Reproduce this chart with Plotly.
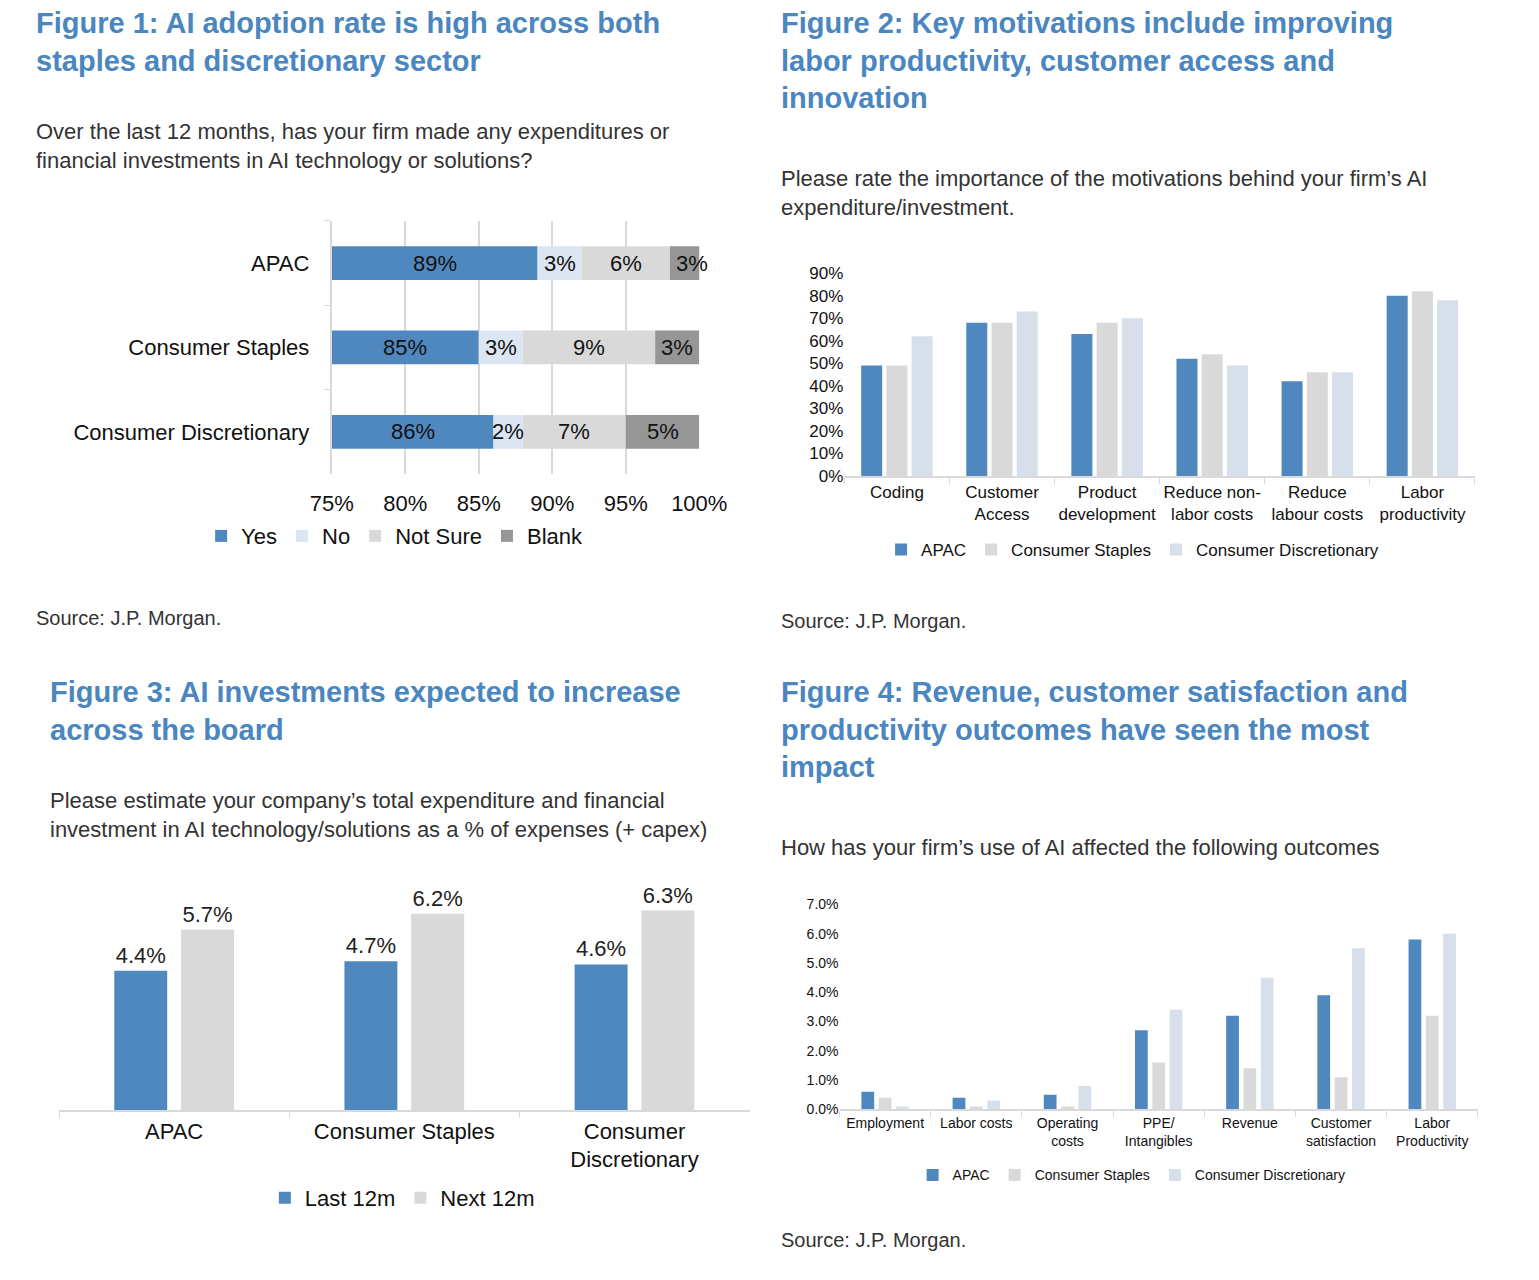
import plotly.graph_objects as go

W, H = 1523, 1264
def px(x): return (x - 8) / W
def py(y): return 1 - (y - 8) / H

BLUE = "#4F88BF"; LBLUE = "#DCE6F2"; LGRAY = "#D9D9D9"; DGRAY = "#969696"; PALE = "#D6DFEA"
TITLE_C = "#4A86C0"; TXT = "#333333"
FONT = "Liberation Sans, Arial, sans-serif"

# Figure 1
f1_regions = ["APAC", "Consumer Staples", "Consumer Discretionary"]
f1_series = ["Yes", "No", "Not Sure", "Blank"]
f1_values = {"Yes": [89, 85, 86], "No": [3, 3, 2], "Not Sure": [6, 9, 7], "Blank": [3, 3, 5]}
f1_colors = [BLUE, LBLUE, LGRAY, DGRAY]
f1_ticks = [75, 80, 85, 90, 95, 100]

# Figure 2
f2_cats = ["Coding", "Customer<br>Access", "Product<br>development", "Reduce non-<br>labor costs",
           "Reduce<br>labour costs", "Labor<br>productivity"]
f2_apac = [49, 68, 63, 52, 42, 80]
f2_staples = [49, 68, 68, 54, 46, 82]
f2_disc = [62, 73, 70, 49, 46, 78]

# Figure 3
f3_cats = ["APAC", "Consumer Staples", "Consumer<br>Discretionary"]
f3_last = [4.4, 4.7, 4.6]
f3_next = [5.7, 6.2, 6.3]

# Figure 4
f4_cats = ["Employment", "Labor costs", "Operating<br>costs", "PPE/<br>Intangibles", "Revenue",
           "Customer<br>satisfaction", "Labor<br>Productivity"]
f4_apac = [0.6, 0.4, 0.5, 2.7, 3.2, 3.9, 5.8]
f4_staples = [0.4, 0.1, 0.1, 1.6, 1.4, 1.1, 3.2]
f4_disc = [0.1, 0.3, 0.8, 3.4, 4.5, 5.5, 6.0]

fig = go.Figure()
annotations = []

# ---- Fig 1 traces (explicit cumulative base)
cum = [0] * len(f1_regions)
for s, c in zip(f1_series, f1_colors):
    vals = f1_values[s]
    fig.add_trace(go.Bar(y=f1_regions, x=vals, base=list(cum), orientation="h", name=s, marker_color=c,
                         xaxis="x", yaxis="y", legend="legend", marker_line_width=0, width=0.4))
    for i, r in enumerate(f1_regions):
        lo = max(cum[i], 75); hi = cum[i] + vals[i]
        annotations.append(dict(x=(lo + hi) / 2, y=r, xref="x", yref="y", text=f"{vals[i]}%",
                                showarrow=False, font=dict(size=22, color="#111")))
    cum = [a + b for a, b in zip(cum, vals)]

def grouped(axis, legend, cats, series, w, gap, **kw):
    n = len(series)
    total = n * w + (n - 1) * gap
    for k, (name, vals, c) in enumerate(series):
        fig.add_trace(go.Bar(x=cats, y=vals, name=name, marker_color=c, xaxis=axis,
                             yaxis=axis.replace("x", "y"), legend=legend, marker_line_width=0,
                             width=w, offset=-total / 2 + k * (w + gap), **kw(vals) if kw else {}))

grouped("x2", "legend2", f2_cats, [("APAC", f2_apac, BLUE), ("Consumer Staples", f2_staples, LGRAY),
                                   ("Consumer Discretionary", f2_disc, PALE)], 0.2, 0.04)
for k, (name, vals, c) in enumerate([("Last 12m", f3_last, BLUE), ("Next 12m", f3_next, LGRAY)]):
    w, gap = 0.23, 0.06
    fig.add_trace(go.Bar(x=f3_cats, y=vals, name=name, marker_color=c, xaxis="x3", yaxis="y3",
                         legend="legend3", text=[f"{v}%" for v in vals], textposition="outside",
                         textangle=0, textfont=dict(size=22, color="#222"), cliponaxis=False,
                         marker_line_width=0, width=w, offset=-(2 * w + gap) / 2 + k * (w + gap)))
grouped("x4", "legend4", f4_cats, [("APAC", f4_apac, BLUE), ("Consumer Staples", f4_staples, LGRAY),
                                   ("Consumer Discretionary", f4_disc, PALE)], 0.14, 0.05)

def T(x, y, text, size, color=TXT, bold=False):
    annotations.append(dict(x=px(x), y=py(y), xref="paper", yref="paper", xanchor="left", yanchor="top",
                            text=(f"<b>{text}</b>" if bold else text), showarrow=False, align="left",
                            font=dict(size=size, color=color, family=FONT)))

T(12, -4, "Figure 1: AI adoption rate is high across both<br>staples and discretionary sector", 29, TITLE_C, True)
T(12, 110, "Over the last 12 months, has your firm made any expenditures or<br>financial investments in AI technology or solutions?", 22)
T(12, 605, "Source: J.P. Morgan.", 20)
T(782, -4, "Figure 2: Key motivations include improving<br>labor productivity, customer access and<br>innovation", 29, TITLE_C, True)
T(782, 157, "Please rate the importance of the motivations behind your firm’s AI<br>expenditure/investment.", 22)
T(782, 608, "Source: J.P. Morgan.", 20)
T(27, 675, "Figure 3: AI investments expected to increase<br>across the board", 29, TITLE_C, True)
T(27, 789, "Please estimate your company’s total expenditure and financial<br>investment in AI technology/solutions as a % of expenses (+ capex)", 22)
T(782, 675, "Figure 4: Revenue, customer satisfaction and<br>productivity outcomes have seen the most<br>impact", 29, TITLE_C, True)
T(782, 836, "How has your firm’s use of AI affected the following outcomes", 22)
T(782, 1236, "Source: J.P. Morgan.", 20)

common_x = dict(showline=True, linecolor="#D9D9D9", linewidth=2, ticks="outside", tickson="boundaries",
                tickcolor="#D9D9D9", ticklen=6, tickangle=0)
fig.update_layout(
    width=W, height=H, margin=dict(l=0, r=0, t=0, b=0), paper_bgcolor="white", plot_bgcolor="white",
    font=dict(family=FONT, color="#111"), barmode="overlay", annotations=annotations,
    xaxis=dict(domain=[px(320), px(700)], anchor="y", range=[75, 100], tickvals=f1_ticks,
               ticktext=[f"{t}%" for t in f1_ticks], showgrid=True, gridcolor="#D9D9D9", gridwidth=2,
               zeroline=False, tickfont=dict(size=22), ticklabelstandoff=14),
    yaxis=dict(domain=[py(472), py(215)], anchor="x", autorange="reversed", showline=True,
               linecolor="#D9D9D9", linewidth=2, ticks="outside", tickson="boundaries", tickcolor="#D9D9D9",
               ticklen=6, tickfont=dict(size=22), ticklabelstandoff=16),
    xaxis2=dict(domain=[px(850), px(1502)], anchor="y2", tickfont=dict(size=17), **common_x),
    yaxis2=dict(domain=[py(474), py(268)], anchor="x2", range=[0, 90], dtick=10, ticksuffix="%",
                showgrid=False, zeroline=False, tickfont=dict(size=17)),
    xaxis3=dict(domain=[px(38), px(752)], anchor="y3", tickfont=dict(size=22), **common_x),
    yaxis3=dict(domain=[py(1118), py(870)], anchor="x3", range=[0, 248 / 32.2], visible=False),
    xaxis4=dict(domain=[px(845), px(1505)], anchor="y4", tickfont=dict(size=14), **common_x),
    yaxis4=dict(domain=[py(1117), py(909)], anchor="x4", range=[0, 7], dtick=1, tickformat=".1f",
                ticksuffix="%", showgrid=False, zeroline=False, tickfont=dict(size=14)),
    legend=dict(orientation="h", x=px(385), y=py(535), xanchor="center", yanchor="middle",
                font=dict(size=22), itemwidth=30, traceorder="normal"),
    legend2=dict(orientation="h", x=px(1148), y=py(549), xanchor="center", yanchor="middle",
                 font=dict(size=17), itemwidth=30, traceorder="normal"),
    legend3=dict(orientation="h", x=px(393), y=py(1207), xanchor="center", yanchor="middle",
                 font=dict(size=22), itemwidth=30, traceorder="normal"),
    legend4=dict(orientation="h", x=px(1147), y=py(1184), xanchor="center", yanchor="middle",
                 font=dict(size=14), itemwidth=30, traceorder="normal"),
)

fig.write_html("out.html")
